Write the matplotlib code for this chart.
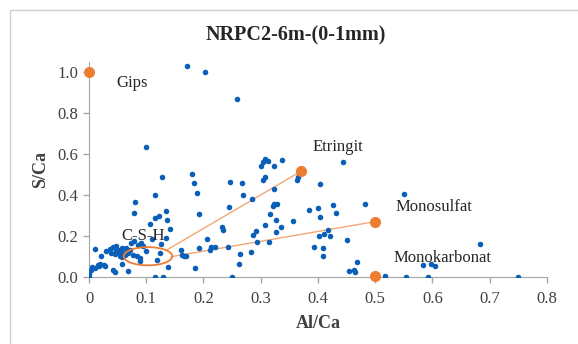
## scatter of S/Ca against Al/Ca with reference phases
import matplotlib.pyplot as plt
from matplotlib.patches import Ellipse, Rectangle

al_ca = [0.0, 0.0, 0.003, 0.006, 0.011, 0.015, 0.020, 0.026, 0.028, 0.018, 0.021, 0.029,
         0.036, 0.042, 0.047, 0.050, 0.052, 0.054, 0.057, 0.061, 0.038, 0.045, 0.048, 0.055,
         0.058, 0.063, 0.072, 0.073, 0.079, 0.086, 0.091, 0.077, 0.083, 0.089, 0.089, 0.068,
         0.058, 0.042, 0.045, 0.010, 0.064, 0.068, 0.095,
         0.080, 0.079, 0.100, 0.115, 0.127, 0.135, 0.123, 0.115, 0.107, 0.137, 0.141, 0.135,
         0.126, 0.110, 0.100, 0.118, 0.138, 0.115, 0.130, 0.124,
         0.171, 0.202, 0.259, 0.180, 0.184, 0.189, 0.192,
         0.160, 0.162, 0.166, 0.169, 0.185, 0.192, 0.206, 0.211, 0.213, 0.220, 0.232, 0.235,
         0.243, 0.245, 0.246, 0.250, 0.262, 0.264, 0.267, 0.269, 0.283, 0.284, 0.287, 0.291,
         0.294, 0.301, 0.304, 0.307, 0.312, 0.304, 0.307, 0.307, 0.315, 0.317, 0.323, 0.324,
         0.321, 0.324, 0.329, 0.326, 0.327, 0.336, 0.337, 0.356, 0.364, 0.365, 0.384, 0.394,
         0.400, 0.404, 0.404, 0.402, 0.409, 0.409, 0.411, 0.418, 0.422, 0.426, 0.431, 0.444,
         0.451, 0.455, 0.463, 0.465, 0.469, 0.483, 0.517, 0.550, 0.554, 0.583, 0.593, 0.597,
         0.604, 0.683, 0.749]
s_ca = [0.0, 0.016, 0.032, 0.047, 0.044, 0.057, 0.063, 0.057, 0.052, 0.055, 0.101, 0.125,
        0.138, 0.146, 0.149, 0.133, 0.122, 0.104, 0.141, 0.117, 0.117, 0.112, 0.125, 0.128,
        0.095, 0.105, 0.130, 0.166, 0.177, 0.157, 0.166, 0.107, 0.104, 0.093, 0.076, 0.029,
        0.063, 0.032, 0.024, 0.138, 0.140, 0.118, 0.150,
        0.368, 0.313, 0.636, 0.401, 0.487, 0.321, 0.297, 0.286, 0.258, 0.276, 0.235, 0.192,
        0.162, 0.185, 0.125, 0.081, 0.049, 0.0, 0.0, 0.117,
        1.032, 1.003, 0.867, 0.502, 0.458, 0.409, 0.305,
        0.130, 0.109, 0.104, 0.101, 0.044, 0.140, 0.185, 0.133, 0.146, 0.146, 0.244, 0.231,
        0.146, 0.343, 0.464, 0.0, 0.065, 0.110, 0.461, 0.398, 0.120, 0.381, 0.206, 0.226,
        0.170, 0.544, 0.560, 0.575, 0.568, 0.474, 0.487, 0.252, 0.170, 0.305, 0.544, 0.429,
        0.347, 0.357, 0.354, 0.279, 0.219, 0.242, 0.571, 0.271, 0.471, 0.490, 0.328, 0.146,
        0.336, 0.455, 0.292, 0.200, 0.141, 0.104, 0.209, 0.230, 0.200, 0.352, 0.312, 0.563,
        0.180, 0.029, 0.036, 0.024, 0.073, 0.357, 0.003, 0.404, 0.0, 0.060, 0.0, 0.063,
        0.052, 0.161, 0.0]

## reference phases
phase_names = ["Gips", "Etringit", "Monosulfat", "Monokarbonat"]
phase_al = [0.0, 0.37, 0.5, 0.5]
phase_s = [1.0, 0.515, 0.27, 0.005]

plt.rcParams["font.family"] = ["Liberation Serif", "DejaVu Serif"]

fig = plt.figure(figsize=(5.78, 3.44), dpi=100)
ax = fig.add_axes([0.154, 0.195, 0.792, 0.625])

# light frame round the chart, as in the export
fig.patches.append(Rectangle((10 / 578, -0.2), 1.2, 1 - 9.5 / 344 + 0.2,
                             transform=fig.transFigure, fill=False,
                             edgecolor="#d0d0d0", linewidth=1))

ax.scatter(al_ca, s_ca, s=16, color="#0a5fb8", zorder=3, linewidths=0)

# ellipse round C-S-H and tie lines to the phases
ax.add_patch(Ellipse((0.103, 0.101), 0.085, 0.089, fill=False,
                     edgecolor="#ed7d31", linewidth=1.3, zorder=4))
ax.plot([0.135, phase_al[1]], [0.130, phase_s[1]], color="#f4a772", linewidth=1, zorder=2)
ax.plot([0.144, phase_al[2]], [0.099, phase_s[2]], color="#f4a772", linewidth=1, zorder=2)

ax.scatter(phase_al, phase_s, s=64, color="#ed7d31", zorder=5, linewidths=0, clip_on=False)

ax.text(0.048, 0.945, phase_names[0], fontsize=12, va="center", color="#262626")
ax.text(0.39, 0.636, phase_names[1], fontsize=12, va="center", color="#262626")
ax.text(0.535, 0.341, phase_names[2], fontsize=12, va="center", color="#262626")
ax.text(0.533, 0.093, phase_names[3], fontsize=12, va="center", color="#262626")
ax.text(0.057, 0.198, "C-S-H", fontsize=12, va="center", color="#262626")

ax.set_xlim(0, 0.8)
ax.set_ylim(0, 1.05)
ax.set_xticks([0, 0.1, 0.2, 0.3, 0.4, 0.5, 0.6, 0.7, 0.8])
ax.set_xticklabels(["0", "0.1", "0.2", "0.3", "0.4", "0.5", "0.6", "0.7", "0.8"])
ax.set_yticks([0, 0.2, 0.4, 0.6, 0.8, 1.0])
ax.set_yticklabels(["0.0", "0.2", "0.4", "0.6", "0.8", "1.0"])
ax.tick_params(labelsize=12, length=4, width=1, colors="#a6a6a6", labelcolor="#404040")
ax.tick_params(axis="x", pad=6)
for side in ["top", "right"]:
    ax.spines[side].set_visible(False)
for side in ["left", "bottom"]:
    ax.spines[side].set_color("#a6a6a6")

ax.set_xlabel("Al/Ca", fontsize=13, fontweight="bold", color="#404040", labelpad=6)
ax.set_ylabel("S/Ca", fontsize=13, fontweight="bold", color="#404040", labelpad=6)
fig.text(0.512, 0.897, "NRPC2-6m-(0-1mm)", fontsize=14.5, fontweight="bold",
         ha="center", va="center", color="#262626")

plt.savefig("out.png", dpi=100)
